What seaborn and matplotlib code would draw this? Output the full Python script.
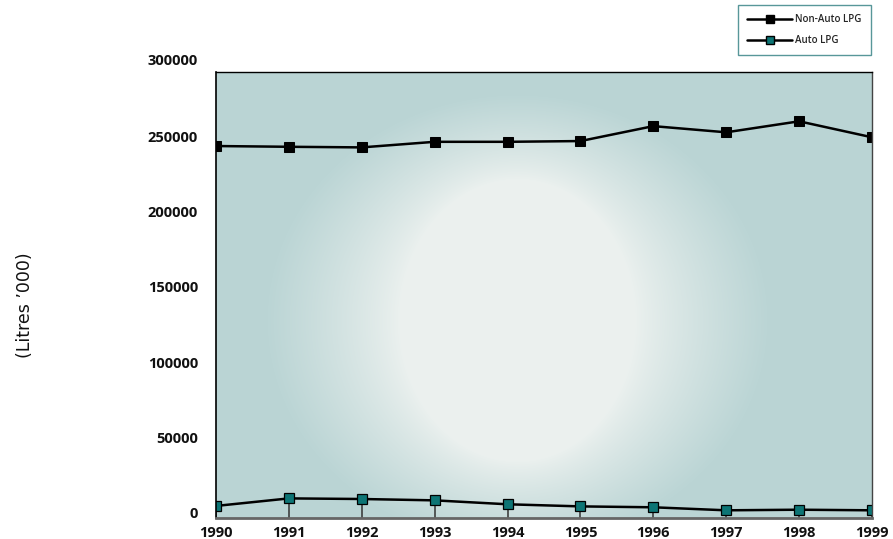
import numpy as np
import matplotlib
matplotlib.use("Agg")
import matplotlib.pyplot as plt
import matplotlib.transforms as mtransforms
from matplotlib.lines import Line2D
import pandas as pd
import seaborn as sns

# LPG sales, thousands of litres
years = [1990, 1991, 1992, 1993, 1994, 1995, 1996, 1997, 1998, 1999]
non_auto_lpg = [246700, 246200, 245800, 249500, 249500, 250000, 259900, 255800, 263100, 252500]
auto_lpg = [8000, 13000, 12600, 11700, 9100, 7700, 7100, 5100, 5500, 5100]
series_names = ["Non-Auto LPG", "Auto LPG"]
y_ticks = [0, 50000, 100000, 150000, 200000, 250000, 300000]
y_label = "(Litres \u2019000)"

sns.set_theme(style="white")
plt.rcParams["font.family"] = ["Open Sans", "DejaVu Sans"]

W_PX, H_PX = 893, 539
fig = plt.figure(figsize=(W_PX / 100, H_PX / 100), dpi=100)
fig.patch.set_facecolor("white")
ax = fig.add_axes([216 / W_PX, 1 - 518 / H_PX, 656 / W_PX, 446 / H_PX])

# soft elliptical glow behind the plot area: bright core fading to teal-grey
gh, gw = 446, 656
yy, xx = np.mgrid[0:gh, 0:gw].astype(float)
dx, dy = xx - 301, yy - 248
r_core = np.sqrt((dx / 117.0) ** 2 + (dy / 140.0) ** 2)
r_outer = np.sqrt((dx / 250.0) ** 2 + (dy / 225.0) ** 2)
k = np.where(r_outer > 0, r_core / np.maximum(r_outer, 1e-9), 2.0)
t = np.clip((r_core - 1) / np.maximum(k - 1, 1e-6), 0, 1)
t = t ** 0.85
c_mid = np.array([0.925, 0.945, 0.937])
c_edge = np.array([0.733, 0.835, 0.835])
img = c_mid * (1 - t[..., None]) + c_edge * t[..., None]
ax.imshow(img, extent=[0, 1, 0, 1], transform=ax.transAxes, aspect="auto",
          origin="upper", zorder=0, interpolation="bilinear")

df = pd.DataFrame({
    "Year": years * 2,
    "Litres": non_auto_lpg + auto_lpg,
    "Series": [series_names[0]] * len(years) + [series_names[1]] * len(years),
})

teal = "#0d7575"
sns.lineplot(data=df[df["Series"] == series_names[0]], x="Year", y="Litres",
             color="black", lw=1.8, marker="s", markersize=7,
             markerfacecolor="black", markeredgecolor="black", ax=ax,
             legend=False, zorder=3)
# drop lines from the auto series down to the axis
ax.vlines(years, 0, auto_lpg, color="#333333", lw=1.1, zorder=2)
sns.lineplot(data=df[df["Series"] == series_names[1]], x="Year", y="Litres",
             color="black", lw=1.8, marker="s", markersize=6.5,
             markerfacecolor=teal, markeredgecolor="black", markeredgewidth=0.9,
             ax=ax, legend=False, zorder=3)

ax.set_xlim(1990, 1999)
ax.set_ylim(0, 295800)
ax.set_xticks(years)
ax.set_xticklabels([str(y) for y in years])
ax.set_yticks(y_ticks[:-1])
ax.set_yticklabels([str(v) for v in y_ticks[:-1]])
ax.set_xlabel("")
ax.set_ylabel(y_label, fontsize=12.5, color="#111111", family=["DejaVu Sans"])
ax.yaxis.set_label_coords((34 - 216) / 656, (518 - 305) / 446)

tick_font = dict(fontsize=10.5, fontweight="bold", color="#111111")
ax.tick_params(axis="y", direction="in", length=8, width=1.4, color="#666666", pad=13)
ax.tick_params(axis="x", length=0, pad=5.5)
for lab in ax.get_xticklabels() + ax.get_yticklabels():
    lab.set_fontsize(tick_font["fontsize"])
    lab.set_fontweight(tick_font["fontweight"])
    lab.set_color(tick_font["color"])

for side, col, lw in [("top", "black", 1.0), ("left", "black", 1.2),
                      ("right", "#444444", 1.0), ("bottom", "#666666", 2.0)]:
    ax.spines[side].set_visible(True)
    ax.spines[side].set_color(col)
    ax.spines[side].set_linewidth(lw)
    ax.spines[side].set_zorder(4)

fig.canvas.draw()
lift = mtransforms.ScaledTranslation(0, 5 / 100, fig.dpi_scale_trans)
for lab in ax.get_yticklabels():
    lab.set_transform(lab.get_transform() + lift)

# top value label sits above the frame
ax.text(0, y_ticks[-1], str(y_ticks[-1]),
        transform=ax.get_yaxis_text1_transform(13)[0] + lift,
        ha="right", va="center", clip_on=False, **tick_font)

handles = [
    Line2D([], [], color="black", lw=1.8, marker="s", markersize=5.5,
           markerfacecolor="black", markeredgecolor="black"),
    Line2D([], [], color="black", lw=1.8, marker="s", markersize=5.5,
           markerfacecolor=teal, markeredgecolor="black"),
]
leg = fig.legend(handles, series_names, loc="upper right",
                 bbox_to_anchor=(871 / W_PX, 1 - 5 / H_PX), borderaxespad=0,
                 prop={"weight": "semibold", "size": 7},
                 frameon=True, fancybox=False, handlelength=4.6,
                 handletextpad=0.35, labelspacing=1.0, borderpad=0.95)
leg.get_frame().set_edgecolor("#2e7d80")
leg.get_frame().set_linewidth(1.0)

fig.savefig("out.png", dpi=100, facecolor="white")
